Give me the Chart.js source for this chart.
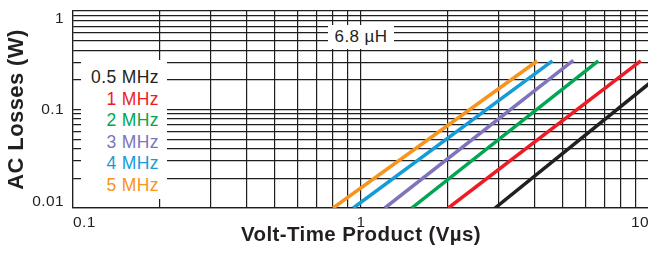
<!DOCTYPE html>
<html>
<head>
<meta charset="utf-8">
<script src="https://cdn.jsdelivr.net/npm/chart.js@4.4.1/dist/chart.umd.min.js"></script>
<style>
  html, body { margin: 0; padding: 0; background: #fff; overflow: hidden; }
  #wrap { position: relative; width: 662px; height: 257px; }
  canvas { position: absolute; left: 0; top: 0; }
  .box { position: absolute; background: #fff; font-family: "Liberation Sans", Arial, Helvetica, sans-serif; letter-spacing: 0.4px; }
  #legend { left: 81px; top: 60px; width: 86px; height: 139px; font-size: 17.5px; }
  #legend div { line-height: 21.5px; text-align: right; padding-right: 8px; }
  #legend .first { margin-top: 7px; }
  #ind { left: 328px; top: 25px; width: 66px; height: 24px; line-height: 24px; text-align: center; color: #231f20; font-size: 17px; }
</style>
</head>
<body>
<div id="wrap">
  <canvas id="c" width="662" height="257"></canvas>
  <div id="legend" class="box"></div>
  <div id="ind" class="box"></div>
</div>
<script>
// ---- data ----
const seriesNames  = ['0.5 MHz', '1 MHz', '2 MHz', '3 MHz', '4 MHz', '5 MHz'];
const seriesColors = ['#231f20', '#ed1c24', '#00a651', '#7f74bb', '#159bd7', '#f7941d'];
// Volt-time product (V·µs) at start / end of each curve
const vtStart = [2.92, 2.01, 1.50, 1.21, 0.94, 0.80];
const vtEnd   = [10.0, 9.36, 6.67, 5.46, 4.62, 4.09];
// AC losses (W) at start / end of each curve
const lossStart = [0.01, 0.01, 0.01, 0.01, 0.01, 0.01];
const lossEnd   = [0.183, 0.311, 0.311, 0.316, 0.311, 0.311];

const xTickValues = [0.1, 0.2, 0.3, 0.4, 0.5, 0.6, 0.7, 0.8, 0.9, 1, 2, 3, 4, 5, 6, 7, 8, 9, 10];
const yTickValues = [0.01, 0.02, 0.03, 0.04, 0.05, 0.06, 0.07, 0.08, 0.09, 0.1, 0.2, 0.3, 0.4, 0.5, 0.6, 0.7, 0.8, 0.9, 1];
const xLabelValues = [0.1, 1, 10];
const xLabels      = ['0.1', '1', '10'];
const yLabelValues = [0.01, 0.1, 1];
const yLabels      = [['0.01', ''], '0.1', ['', '1']];
const inductance = '6.8 µH';
const xTitle = 'Volt-Time Product (Vµs)';
const yTitle = 'AC Losses (W)';

// ---- chart ----
const FONT = '"Liberation Sans", Arial, Helvetica, sans-serif';
const GRID = '#1e1e1e';
const TICK_SIZE = 15.5;
function findIdx(arr, v) {
  for (let i = 0; i < arr.length; i++) {
    if (Math.abs(Math.log10(arr[i]) - Math.log10(v)) < 1e-6) return i;
  }
  return -1;
}

const datasets = seriesNames.map((name, i) => ({
  label: name,
  data: [{ x: vtStart[i], y: lossStart[i] }, { x: vtEnd[i], y: lossEnd[i] }],
  borderColor: seriesColors[i],
  backgroundColor: seriesColors[i],
  borderWidth: 3.5,
  pointRadius: 0,
  tension: 0,
  borderCapStyle: 'butt'
}));

const spacingPlugin = {
  id: 'spacing',
  beforeDraw(chart) { chart.ctx.letterSpacing = '0.4px'; }
};

new Chart(document.getElementById('c'), {
  type: 'line',
  data: { datasets },
  options: {
    responsive: false,
    animation: false,
    devicePixelRatio: 1,
    layout: { padding: { left: 0, top: 11, right: 13, bottom: 0 } },
    plugins: { legend: { display: false }, tooltip: { enabled: false } },
    scales: {
      x: {
        type: 'logarithmic',
        position: 'bottom',
        min: 0.1, max: 10,
        afterBuildTicks: s => { s.ticks = xTickValues.map(v => ({ value: v })); },
        afterFit: s => { s.height = 49; s.paddingLeft = 0; s.paddingRight = 0; },
        ticks: {
          autoSkip: false, maxRotation: 0, minRotation: 0,
          align: 'inner', padding: 5.5, color: '#231f20',
          font: { family: FONT, size: TICK_SIZE },
          callback: v => { const k = findIdx(xLabelValues, v); return k < 0 ? '' : xLabels[k]; }
        },
        grid: { color: GRID, lineWidth: 1.2, drawTicks: false },
        border: { display: true, color: GRID, width: 1.2 },
        title: {
          display: true, text: xTitle, color: '#231f20',
          font: { family: FONT, size: 20.5, weight: 'bold' },
          padding: { top: 0, bottom: 9.7 }
        }
      },
      y: {
        type: 'logarithmic',
        position: 'left',
        min: 0.01, max: 1,
        afterBuildTicks: s => { s.ticks = yTickValues.map(v => ({ value: v })); },
        afterFit: s => { s.width = 73; s.paddingTop = 0; s.paddingBottom = 0; },
        ticks: {
          autoSkip: false, padding: 9, color: '#231f20',
          font: c => {
            const v = c.tick ? c.tick.value : 0.1;
            let lh = 1.2;
            if (Math.abs(v - 1) < 1e-9) lh = 16 / TICK_SIZE;
            else if (Math.abs(v - 0.01) < 1e-9) lh = 12 / TICK_SIZE;
            return { family: FONT, size: TICK_SIZE, lineHeight: lh };
          },
          callback: v => { const k = findIdx(yLabelValues, v); return k < 0 ? '' : yLabels[k]; }
        },
        grid: { color: GRID, lineWidth: 1.2, drawTicks: false },
        border: { display: true, color: GRID, width: 1.2 },
        title: {
          display: true, text: yTitle, color: '#231f20',
          font: { family: FONT, size: 22, weight: 'bold' },
          padding: { top: 3.5, bottom: 0 }
        }
      }
    }
  },
  plugins: [spacingPlugin]
});

// ---- legend and inductance label (HTML text) ----
const lg = document.getElementById('legend');
seriesNames.forEach((n, i) => {
  const d = document.createElement('div');
  d.textContent = n;
  d.style.color = seriesColors[i];
  if (i === 0) d.className = 'first';
  lg.appendChild(d);
});
document.getElementById('ind').textContent = inductance;
</script>
</body>
</html>
